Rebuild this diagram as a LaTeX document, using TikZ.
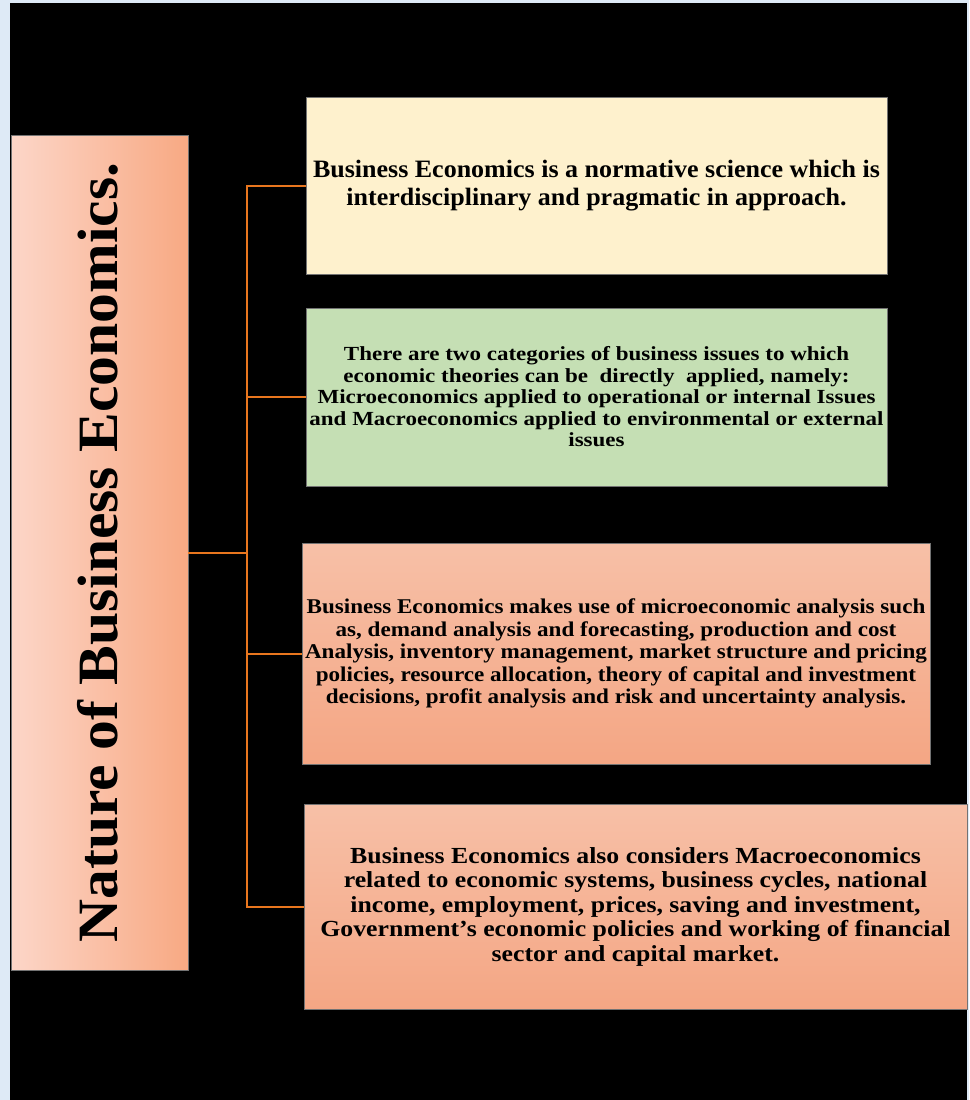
\documentclass[tikz,border=0pt]{standalone}
\usepackage{fontspec}
\setmainfont{Liberation Serif}
\newfontfamily\titlefont[FakeStretch=1.045]{Liberation Serif}
\newfontfamily\normfont[FakeStretch=1.04]{Liberation Serif}
\newfontfamily\issuesfont[FakeStretch=1.15]{Liberation Serif}
\newfontfamily\microfont[FakeStretch=1.10]{Liberation Serif}
\newfontfamily\macrofont[FakeStretch=1.12]{Liberation Serif}
\usetikzlibrary{positioning}
\definecolor{pageblue}{HTML}{DEEAF6}
\definecolor{linkorange}{HTML}{E8761E}
\definecolor{cream}{HTML}{FEF1CD}
\definecolor{sage}{HTML}{C5DFB4}
\definecolor{peachlight}{HTML}{FCD6C8}
\definecolor{peachdark}{HTML}{F8A983}
\definecolor{salmontop}{HTML}{F7C0A7}
\definecolor{salmonbot}{HTML}{F4A684}
\tikzset{
  infobox/.style = {
    draw=black!55, line width=0.6pt, align=center, inner sep=1pt
  },
  link/.style = {linkorange, line width=2pt}
}

\begin{document}
\begin{tikzpicture}[x=1pt,y=-1pt]
  \useasboundingbox (0,0) rectangle (969,1100);
  \fill[pageblue] (0,0) rectangle (969,1100);
  \fill[black] (10,3) rectangle (967,1100);

  \node[infobox, minimum width=177pt, minimum height=835pt,
        left color=peachlight, right color=peachdark] (nature) at (99.5,552.5) {};
  \node[rotate=90, font=\titlefont\bfseries\fontsize{57}{64}\selectfont] (title) at ([xshift=-2pt]nature.center)
    {Nature of Business Economics.};

  \node[infobox, fill=cream, minimum width=581pt, minimum height=177pt,
        font=\normfont\bfseries\fontsize{25}{27.5}\selectfont] (norm) at (596.5,185.5)
    {Business Economics is a normative science which is\\
     interdisciplinary and pragmatic in approach.};
  \node[infobox, fill=sage, minimum width=581pt, minimum height=178pt,
        font=\issuesfont\bfseries\fontsize{20}{21.5}\selectfont] (issues) at (596.5,397)
    {There are two categories of business issues to which\\
     economic theories can be\ \ directly\ \ applied, namely:\\
     Microeconomics applied to operational or internal Issues\\
     and Macroeconomics applied to environmental or external\\
     issues};
  \node[infobox, top color=salmontop, bottom color=salmonbot, minimum width=628pt,
        minimum height=221pt, font=\microfont\bfseries\fontsize{21}{22.5}\selectfont] (micro) at (616,653.5)
    {Business Economics makes use of microeconomic analysis such\\
     as, demand analysis and forecasting, production and cost\\
     Analysis, inventory management, market structure and pricing\\
     policies, resource allocation, theory of capital and investment\\
     decisions, profit analysis and risk and uncertainty analysis.};
  \node[infobox, top color=salmontop, bottom color=salmonbot, minimum width=663pt,
        minimum height=205pt, font=\macrofont\bfseries\fontsize{23}{24.5}\selectfont] (macro) at (635.5,906.5)
    {Business Economics also considers Macroeconomics\\
     related to economic systems, business cycles, national\\
     income, employment, prices, saving and investment,\\
     Government’s economic policies and working of financial\\
     sector and capital market.};

  % bracket
  \coordinate (split) at (247,552.5);
  \draw[link] (nature.east) -- (split);
  \draw[link] (split) |- (norm.west);
  \draw[link] (split) |- (issues.west);
  \draw[link] (split) |- (micro.west);
  \draw[link] (split) |- (macro.west);
\end{tikzpicture}
\end{document}
